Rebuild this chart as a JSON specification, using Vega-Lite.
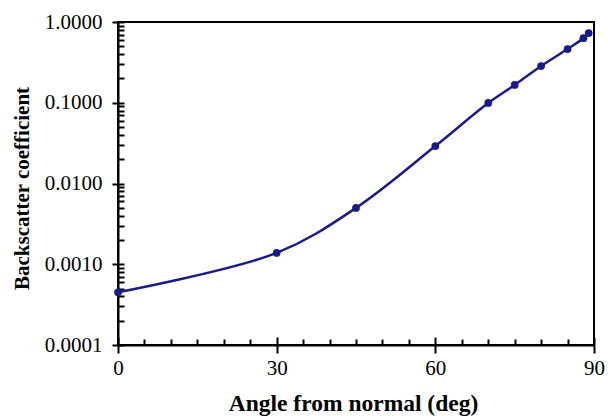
{
  "$schema": "https://vega.github.io/schema/vega-lite/v6.json",
  "width": 476,
  "height": 323,
  "autosize": "none",
  "padding": {"left": 118, "top": 22, "right": 14, "bottom": 71},
  "background": "white",
  "config": {
    "view": {"stroke": "black", "strokeWidth": 2},
    "axis": {"grid": false, "domainColor": "black", "tickColor": "black", "labelColor": "black", "titleColor": "black", "labelFont": "Liberation Serif", "titleFont": "Liberation Serif", "domainWidth": 2, "tickWidth": 2}
  },
  "data": {"values": [
    {"angle": 0, "coef": 0.00045},
    {"angle": 30, "coef": 0.00138},
    {"angle": 45, "coef": 0.00498},
    {"angle": 60, "coef": 0.0291},
    {"angle": 70, "coef": 0.0993},
    {"angle": 75, "coef": 0.166},
    {"angle": 80, "coef": 0.285},
    {"angle": 85, "coef": 0.463},
    {"angle": 88, "coef": 0.63},
    {"angle": 89, "coef": 0.73}
  ]},
  "encoding": {
    "x": {"field": "angle", "type": "quantitative", "scale": {"domain": [0, 90], "nice": false, "zero": false}},
    "y": {"field": "coef", "type": "quantitative", "scale": {"type": "log", "domain": [0.0001, 1], "nice": false}}
  },
  "layer": [
    {
      "mark": {"type": "line", "interpolate": "catmull-rom", "color": "#1a1a8a", "strokeWidth": 2.5},
      "encoding": {
        "x": {"field": "angle", "type": "quantitative", "axis": {"values": [0, 30, 60, 90], "tickSize": 8, "labelFontSize": 21, "labelPadding": 4, "labelFlush": false, "title": "Angle from normal (deg)", "titleFontSize": 23.5, "titleFontWeight": "bold", "titleX": 235, "titleY": 65, "titleBaseline": "alphabetic"}},
        "y": {"field": "coef", "type": "quantitative", "axis": {"values": [0.0001, 0.001, 0.01, 0.1, 1], "format": ".4f", "tickSize": 6, "labelFontSize": 21, "labelPadding": 10, "labelFlush": false, "title": "Backscatter coefficient", "titleFontSize": 21, "titleFontWeight": "bold", "titleX": -90, "titleY": 166, "titleBaseline": "alphabetic", "titleAngle": -90}}
      }
    },
    {
      "mark": {"type": "point", "filled": true, "opacity": 1, "color": "#1a1a8a", "size": 60},
      "encoding": {
        "x": {"field": "angle", "type": "quantitative", "axis": {"orient": "bottom", "offset": -6, "values": [5, 10, 15, 20, 25, 35, 40, 45, 50, 55, 65, 70, 75, 80, 85], "tickSize": 6, "labels": false, "domain": false, "title": null}},
        "y": {"field": "coef", "type": "quantitative", "axis": {"orient": "left", "offset": -6, "values": [0.0001, 0.0002, 0.0003, 0.0004, 0.0005, 0.0006, 0.0007, 0.0008, 0.0009, 0.001, 0.002, 0.003, 0.004, 0.005, 0.006, 0.007, 0.008, 0.009, 0.01, 0.02, 0.03, 0.04, 0.05, 0.06, 0.07, 0.08, 0.09, 0.1, 0.2, 0.3, 0.4, 0.5, 0.6, 0.7, 0.8, 0.9, 1], "tickSize": 6, "labels": false, "domain": false, "title": null}}
      }
    },
    {
      "mark": {"type": "point", "opacity": 0},
      "encoding": {
        "x": {"field": "angle", "type": "quantitative", "axis": {"orient": "bottom", "offset": -8, "values": [0, 30, 60, 90], "tickSize": 8, "labels": false, "domain": false, "title": null}},
        "y": {"field": "coef", "type": "quantitative", "axis": null}
      }
    }
  ],
  "resolve": {"axis": {"x": "independent", "y": "independent"}}
}
